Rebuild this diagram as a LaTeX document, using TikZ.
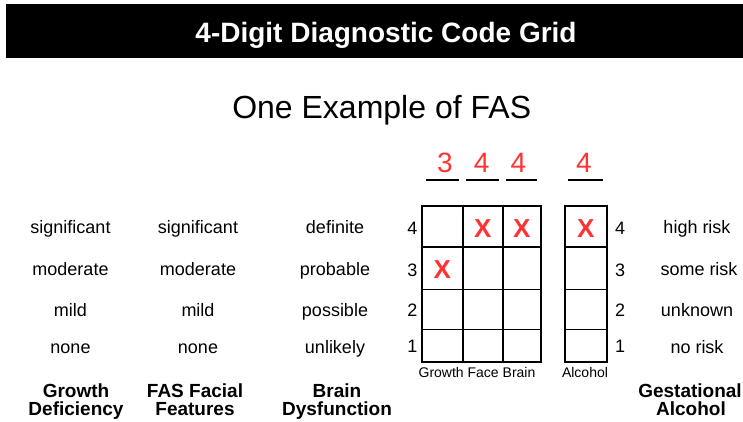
\documentclass[tikz,border=0pt]{standalone}
\usepackage{fontspec}
\setmainfont{Liberation Sans}
\definecolor{xred}{RGB}{255,51,51}
\begin{document}
\begin{tikzpicture}[x=1pt,y=-1pt,
  txt/.style={font=\fontsize{18}{20}\selectfont, anchor=base, inner sep=0pt},
  head/.style={font=\fontsize{19}{21}\selectfont\bfseries, anchor=base, inner sep=0pt},
  num/.style={font=\fontsize{18}{20}\selectfont, inner sep=0pt},
  small/.style={font=\fontsize{14}{16}\selectfont, anchor=base, inner sep=0pt},
  rednum/.style={font=\fontsize{28}{30}\selectfont, text=xred, inner sep=0pt},
  xmark/.style={font=\fontsize{26}{28}\selectfont\bfseries, text=xred, inner sep=0pt},
  gridline/.style={line width=1.6pt, black},
  uline/.style={line width=1.4pt, black}]
\useasboundingbox (0,0) rectangle (743,421);
% title bar
\fill[black] (6,4) rectangle (743,58);
\node[font=\fontsize{28}{30}\selectfont\bfseries, text=white, anchor=base, inner sep=0pt] (title) at (386,42.7) {4-Digit Diagnostic Code Grid};
\node[font=\fontsize{32}{34}\selectfont, anchor=base, inner sep=0pt] (sub) at (381.7,118) {One Example of FAS};
% code digits and underlines
\node[rednum] (d1) at (445,163) {3};
\node[rednum] (d2) at (481.7,163) {4};
\node[rednum] (d3) at (518.3,163) {4};
\node[rednum] (d4) at (584,163) {4};
\coordinate (u1a) at (425.7,180); \coordinate (u1b) at (459.3,180);
\coordinate (u2a) at (465.7,180); \coordinate (u2b) at (499.3,180);
\coordinate (u3a) at (505.7,180); \coordinate (u3b) at (537.3,180);
\coordinate (u4a) at (567.7,180); \coordinate (u4b) at (603.3,180);
\draw[uline] (u1a) -- (u1b);
\draw[uline] (u2a) -- (u2b);
\draw[uline] (u3a) -- (u3b);
\draw[uline] (u4a) -- (u4b);
% main grid
\draw[gridline] (421.7,206) rectangle (541,361.7);
\draw[gridline] (462.7,206) -- (462.7,361.7);
\draw[gridline] (502.7,206) -- (502.7,361.7);
\draw[gridline] (421.7,246.7) -- (541,246.7);
\draw[gridline] (421.7,289.3) -- (541,289.3);
\draw[gridline] (421.7,329.3) -- (541,329.3);
% alcohol column
\draw[gridline] (565,206) rectangle (606.7,361.7);
\draw[gridline] (565,246.7) -- (606.7,246.7);
\draw[gridline] (565,289.3) -- (606.7,289.3);
\draw[gridline] (565,329.3) -- (606.7,329.3);
% marks
\node[xmark] (x1) at (442.2,270) {X};
\node[xmark] (x2) at (482.7,228.3) {X};
\node[xmark] (x3) at (521.8,228.3) {X};
\node[xmark] (x4) at (585.8,228.3) {X};
% row numbers
\node[num] (l4) at (412.3,228.3) {4};
\node[num] (l3) at (412.3,270) {3};
\node[num] (l2) at (412.3,310) {2};
\node[num] (l1) at (412.3,346.7) {1};
\node[num] (r4) at (620,228.3) {4};
\node[num] (r3) at (620,270) {3};
\node[num] (r2) at (620,310) {2};
\node[num] (r1) at (620,346.7) {1};
% column labels
\node[small] (cl1) at (477,377) {Growth Face Brain};
\node[small] (cl2) at (585,377) {Alcohol};
% growth column
\node[txt] (g4) at (70.5,233) {significant};
\node[txt] (g3) at (70.5,275) {moderate};
\node[txt] (g2) at (70.5,316) {mild};
\node[txt] (g1) at (70.5,353) {none};
\node[head] (gh1) at (76,397) {Growth};
\node[head] (gh2) at (76,415) {Deficiency};
% face column
\node[txt] (f4) at (198,233) {significant};
\node[txt] (f3) at (198,275) {moderate};
\node[txt] (f2) at (198,316) {mild};
\node[txt] (f1) at (198,353) {none};
\node[head] (fh1) at (195,397) {FAS Facial};
\node[head] (fh2) at (195,415) {Features};
% brain column
\node[txt] (b4) at (335,233) {definite};
\node[txt] (b3) at (335,275) {probable};
\node[txt] (b2) at (335,316) {possible};
\node[txt] (b1) at (335,353) {unlikely};
\node[head] (bh1) at (337,397) {Brain};
\node[head] (bh2) at (337,415) {Dysfunction};
% alcohol column text
\node[txt] (a4) at (697,233) {high risk};
\node[txt] (a3) at (699,275) {some risk};
\node[txt] (a2) at (697,316) {unknown};
\node[txt] (a1) at (697,353) {no risk};
\node[head] (ah1) at (690,397) {Gestational};
\node[head] (ah2) at (691,415) {Alcohol};
\end{tikzpicture}
\end{document}
